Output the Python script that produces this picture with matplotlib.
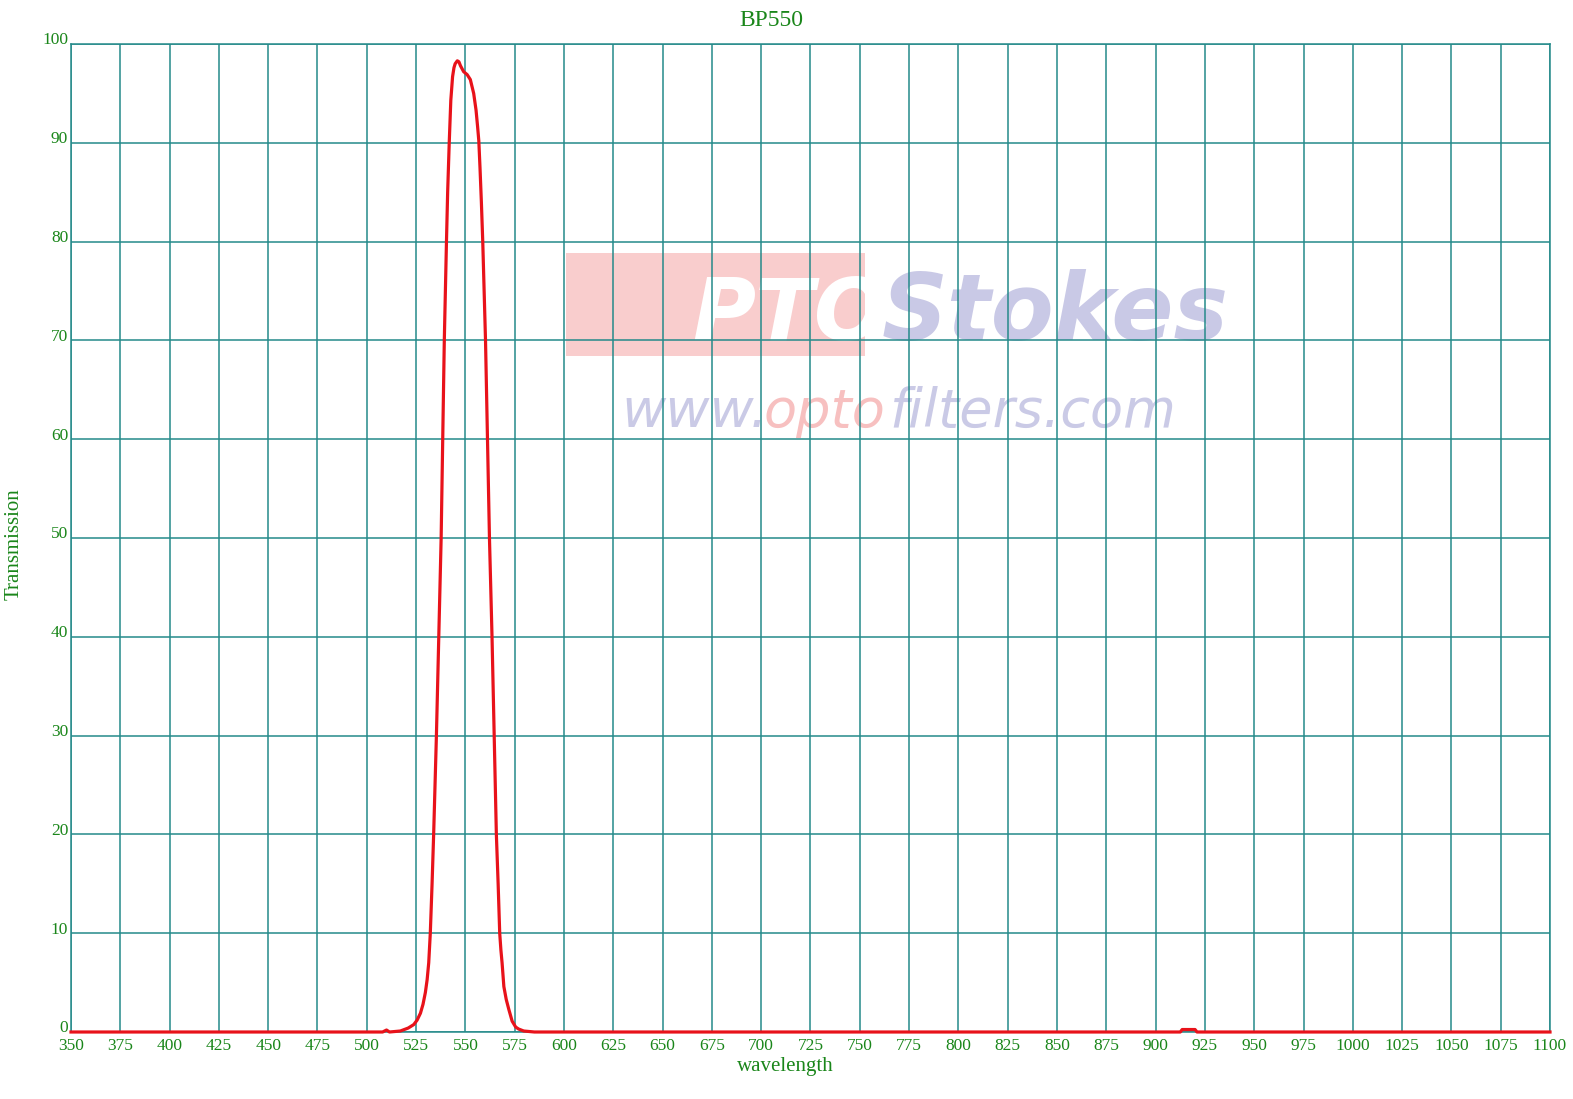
import numpy as np
import matplotlib
matplotlib.use("Agg")
import matplotlib.pyplot as plt
from matplotlib.transforms import ScaledTranslation
from matplotlib.patches import Rectangle

# transmission curve (nm, %)
wavelength = [350, 508, 510, 511.5, 517, 521, 523.8, 525.5, 527.2, 528.5, 529.7, 530.6,
              531.4, 532.2, 533.1, 533.9, 535.3, 536.5, 537.7, 538.5, 539.3, 540.4,
              541.0, 541.8, 542.6, 543.5, 544.2, 544.8, 545.9, 546.7, 547.5, 549.1,
              550.9, 552.5, 554.2, 555.4, 556.2, 556.8, 557.4, 558.1, 558.8, 560.2, 561.2,
              562.2, 563.5, 564.6, 565.7, 566.6, 567.4, 568.0, 568.6, 569.5, 570.7, 572.0,
              573.7, 575.5, 577, 579.6, 585, 912.5, 913.5, 920, 921, 1100]
transmission = [0, 0, 0.2, 0, 0.1, 0.4, 0.75, 1.2, 1.9, 2.8, 4, 5.3,
                7, 10, 15, 20, 30, 40, 50, 60, 70, 80,
                85, 90, 94.3, 96.7, 97.6, 98.0, 98.3, 98.2, 97.8, 97.2,
                96.9, 96.4, 95.0, 93.3, 91.6, 90.2, 87.5, 84, 80, 70, 60,
                50, 40, 30, 20, 15, 10, 8.3, 7, 4.6, 3.3, 2.3,
                1.1, 0.5, 0.3, 0.1, 0, 0, 0.25, 0.25, 0, 0]

x_ticks = list(range(350, 1101, 25))
y_ticks = list(range(0, 101, 10))

title = "BP550"
x_label = "wavelength"
y_label = "Transmission"

grid_col = "#258a8a"
text_col = "#1a861a"
serif = ["Liberation Serif", "DejaVu Serif"]

fig = plt.figure(figsize=(15.73, 10.99), dpi=100)
ax = fig.add_axes([71/1573, 1-1032/1099, 1479/1573, 988/1099])

ax.set_xlim(350, 1100)
ax.set_ylim(0, 100)
ax.set_xticks(x_ticks)
ax.set_yticks(y_ticks)
ax.grid(True, color=grid_col, linewidth=1.1, zorder=1)
ax.set_axisbelow(True)
for s in ax.spines.values():
    s.set_color(grid_col)
    s.set_linewidth(1.1)

ax.tick_params(length=0, labelcolor=text_col, labelsize=12.5)
ax.tick_params(axis='x', pad=4)
ax.tick_params(axis='y', pad=2)
for lab in ax.get_xticklabels() + ax.get_yticklabels():
    lab.set_fontfamily(serif)
for lab in ax.get_yticklabels():
    lab.set_transform(lab.get_transform() + ScaledTranslation(0, 0.055, fig.dpi_scale_trans))

# watermark
ax.add_patch(Rectangle((0.335, 0.684), 0.202, 0.104, transform=ax.transAxes,
                       facecolor="#f7b8b8", alpha=0.7, edgecolor='none', zorder=0))
ax.text(0.42, 0.70, "PTO", transform=ax.transAxes, fontsize=62, fontweight='bold',
        style='italic', color='white', zorder=0.5)
ax.text(0.548, 0.70, "Stokes", transform=ax.transAxes, fontsize=66, fontweight='bold',
        style='italic', color="#c9c9e6", zorder=0.5)
ax.text(0.372, 0.612, "www.", transform=ax.transAxes, fontsize=39, style='italic',
        color="#cacae6", zorder=0.5)
ax.text(0.468, 0.612, "opto", transform=ax.transAxes, fontsize=39, style='italic',
        color="#f7c0c0", zorder=0.5)
ax.text(0.553, 0.612, "filters.com", transform=ax.transAxes, fontsize=39, style='italic',
        color="#cacae6", zorder=0.5)

ax.plot(wavelength, transmission, color="#e8121a", linewidth=2.3, zorder=3, clip_on=False,
        solid_joinstyle='round')

fig.text(771/1573, 1-21/1099, title, ha='center', va='center', fontsize=17,
         color=text_col, family=serif)
fig.text(785/1573, 1-1067/1099, x_label, ha='center', va='center', fontsize=15,
         color=text_col, family=serif)
fig.text(14/1573, 1-544/1099, y_label, ha='center', va='center', rotation=90,
         fontsize=15, color=text_col, family=serif)

fig.savefig("out.png", dpi=100)
